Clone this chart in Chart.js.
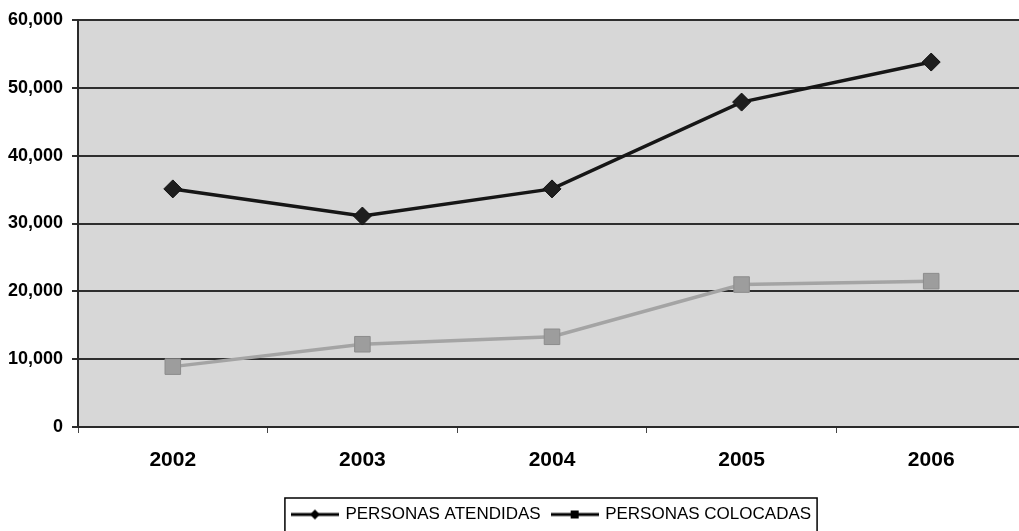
<!DOCTYPE html>
<html>
<head>
<meta charset="utf-8">
<script src="https://cdn.jsdelivr.net/npm/chart.js@4.4.0/dist/chart.umd.min.js"></script>
<style>
  body { margin: 0; background: #fff; overflow: hidden; }
  #wrap { width: 1046px; height: 531px; }
</style>
</head>
<body>
<div id="wrap"><canvas id="myChart" width="1046" height="531"></canvas></div>
<script>
const years = ['2002', '2003', '2004', '2005', '2006'];
const atendidas = [35100, 31100, 35100, 47900, 53800];
const colocadas = [8900, 12200, 13300, 21000, 21500];
const yTicks = [0, 10000, 20000, 30000, 40000, 50000, 60000];

// little line+marker swatches for the legend
function swatch(shape) {
    let c = document.createElement('canvas');
    c.width = 48; c.height = 14;
    let g = c.getContext('2d');
    g.strokeStyle = '#000';
    g.lineWidth = 3;
    g.beginPath(); g.moveTo(0, 7); g.lineTo(48, 7); g.stroke();
    g.fillStyle = '#000';
    if (shape == 'diamond') {
        g.beginPath();
        g.moveTo(24, 2); g.lineTo(29, 7); g.lineTo(24, 12); g.lineTo(19, 7);
        g.closePath(); g.fill();
    } else {
        g.fillRect(20, 3, 8, 8);
    }
    return c;
}
const swatches = [swatch('diamond'), swatch('square')];

const plotBg = {
    id: 'plotBg',
    beforeDraw(chart) {
        let a = chart.chartArea, ctx = chart.ctx;
        ctx.save();
        ctx.fillStyle = '#d7d7d7';
        ctx.fillRect(a.left, a.top, a.right - a.left, a.bottom - a.top);
        ctx.restore();
    }
};

const legendBox = {
    id: 'legendBox',
    afterDraw(chart) {
        let boxes = chart.legend.legendHitBoxes;
        if (!boxes || !boxes.length) return;
        let left = Math.min(...boxes.map(b => b.left)) - 8;
        let right = Math.max(...boxes.map(b => b.left + b.width)) + 6;
        let top = Math.min(...boxes.map(b => b.top)) - 8;
        let bottom = Math.max(...boxes.map(b => b.top + b.height)) + 10;
        let ctx = chart.ctx;
        ctx.save();
        ctx.strokeStyle = '#000';
        ctx.lineWidth = 1.5;
        ctx.strokeRect(left, top, right - left, bottom - top);
        ctx.restore();
    }
};

const ctx = document.getElementById('myChart');

let line = new Chart(ctx, {
    type: 'line',
    data: {
        labels: years,
        datasets: [{
            label: 'PERSONAS ATENDIDAS',
            data: atendidas,
            borderColor: '#161616',
            backgroundColor: '#1e1e1e',
            borderWidth: 3.5,
            pointStyle: 'rectRot',
            pointRadius: 9,
            pointBorderColor: '#111',
            pointBorderWidth: 1,
            tension: 0
        }, {
            label: 'PERSONAS COLOCADAS',
            data: colocadas,
            borderColor: '#a4a4a4',
            backgroundColor: '#9d9d9d',
            borderWidth: 3.5,
            pointStyle: 'rect',
            pointRadius: 11,
            pointBorderColor: '#8c8c8c',
            pointBorderWidth: 1,
            tension: 0
        }]
    },
    options: {
        responsive: false,
        animation: false,
        layout: { padding: { top: 20, right: 20, left: 0, bottom: -2 } },
        plugins: {
            tooltip: { enabled: false },
            legend: {
                position: 'bottom',
                fullSize: false,
                labels: {
                    color: '#000',
                    font: { family: 'Liberation Sans, Arial, sans-serif', size: 17 },
                    usePointStyle: true,
                    pointStyleWidth: 44,
                    padding: 12,
                    generateLabels: (chart) => chart.data.datasets.map((ds, i) => ({
                        text: ds.label,
                        pointStyle: swatches[i],
                        fillStyle: '#000',
                        strokeStyle: '#000',
                        lineWidth: 0,
                        fontColor: '#000',
                        datasetIndex: i
                    }))
                }
            }
        },
        scales: {
            x: {
                offset: true,
                afterFit: (scale) => { scale.height = 67; },
                grid: {
                    offset: true,
                    drawOnChartArea: false,
                    drawTicks: true,
                    tickLength: 6,
                    color: '#444',
                    lineWidth: 1
                },
                border: { display: true, color: '#2a2a2a', width: 2 },
                ticks: {
                    color: '#000',
                    padding: 15,
                    font: { family: 'Liberation Sans, Arial, sans-serif', size: 21, weight: 'bold' }
                }
            },
            y: {
                min: 0,
                max: 60000,
                afterFit: (scale) => { scale.width = 78; },
                afterBuildTicks: (scale) => { scale.ticks = yTicks.map(v => ({ value: v })); },
                grid: { color: '#2e2e2e', lineWidth: 2, tickLength: 6 },
                border: { display: true, color: '#2a2a2a', width: 2 },
                ticks: {
                    color: '#000',
                    padding: 9,
                    font: { family: 'Liberation Sans, Arial, sans-serif', size: 18, weight: 'bold' },
                    callback: (v) => v.toLocaleString('en-US')
                }
            }
        }
    },
    plugins: [plotBg, legendBox]
});
</script>
</body>
</html>
